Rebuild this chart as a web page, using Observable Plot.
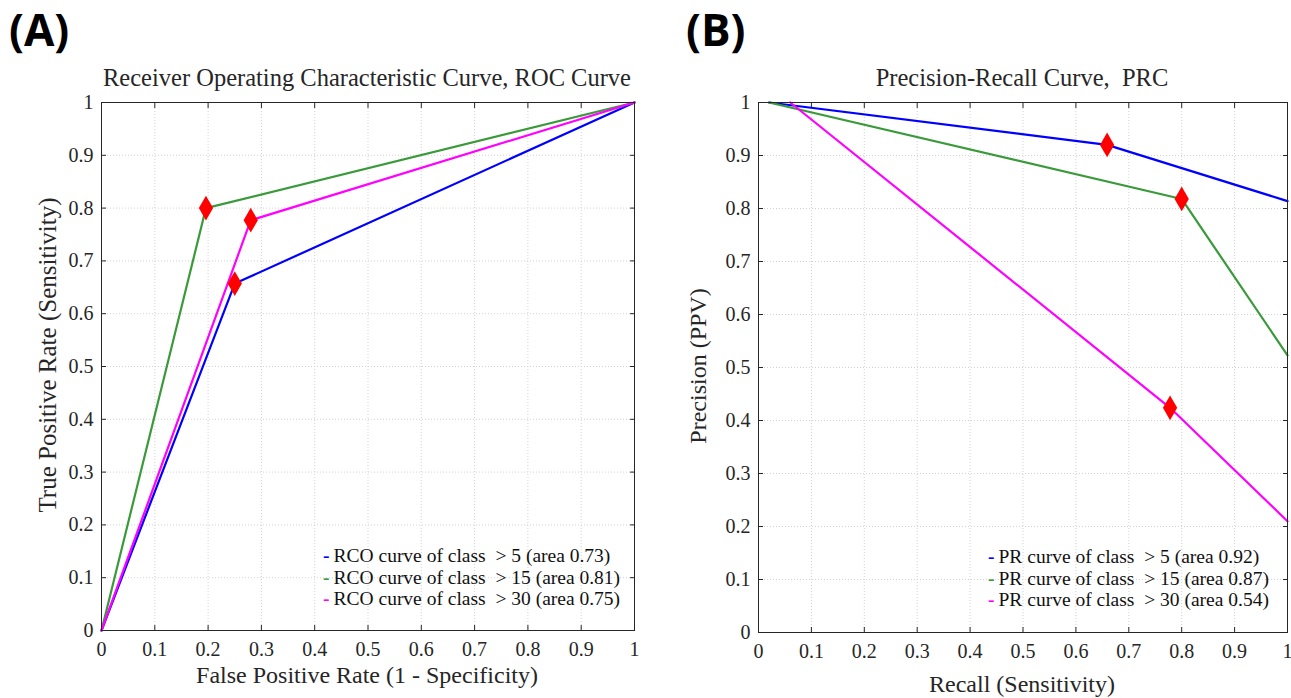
<!DOCTYPE html>
<html>
<head>
<meta charset="utf-8">
<script src="https://cdn.jsdelivr.net/npm/d3@7"></script>
<script src="https://cdn.jsdelivr.net/npm/@observablehq/plot@0.6"></script>
<style>
  body { margin: 0; background: #fff; }
  #root { position: relative; width: 1291px; height: 698px; overflow: hidden; background: #fff; font-family: "Liberation Serif", serif; color: #262626; }
  .abs { position: absolute; white-space: nowrap; }
  .letter { font-family: "Open Sans", sans-serif; font-weight: 700; font-size: 44px; color: #000; line-height: 1; }
  .title { font-size: 24.5px; transform: translateX(-50%); line-height: 1; }
  .xlab { font-size: 24px; transform: translateX(-50%); line-height: 1; }
  .ylab { transform: translate(-50%, -50%) rotate(-90deg); line-height: 1; }
  .leg { font-size: 19.5px; line-height: 21.5px; color: #111; }
  .leg span.d { font-weight: 700; margin-right: 4px; }
</style>
</head>
<body>
<div id="root"></div>
<script>
// ---- data ----
const tickValues = [0, 0.1, 0.2, 0.3, 0.4, 0.5, 0.6, 0.7, 0.8, 0.9, 1];
const seriesNames = ["> 5", "> 15", "> 30"];
const seriesColors = ["#0000ff", "#3a9a3a", "#ff00ff"];

// ROC curves (FPR, TPR)
const rocFPR_gt5 = [0, 0.25, 1];
const rocTPR_gt5 = [0, 0.657, 1];
const rocFPR_gt15 = [0, 0.196, 1];
const rocTPR_gt15 = [0, 0.80, 1];
const rocFPR_gt30 = [0, 0.28, 1];
const rocTPR_gt30 = [0, 0.777, 1];
const rocAUC = [0.73, 0.81, 0.75];

// PR curves (Recall, Precision)
const prRecall_gt5 = [0.02, 0.659, 1];
const prPrecision_gt5 = [1, 0.92, 0.814];
const prRecall_gt15 = [0.02, 0.80, 1];
const prPrecision_gt15 = [1, 0.818, 0.523];
const prRecall_gt30 = [0.06, 0.778, 1];
const prPrecision_gt30 = [1, 0.424, 0.21];
const prAUC = [0.92, 0.87, 0.54];

// operating-point marker is the middle point of each curve
const markerIndex = 1;

const fmt = d => (d === 0 ? "0" : d === 1 ? "1" : d.toFixed(1));
const toPts = (xs, ys) => xs.map((x, i) => ({x, y: ys[i]}));

function panel(curves, opts) {
  const marks = [
    Plot.gridX(tickValues, {stroke: "#d2d2d2", strokeOpacity: 1, strokeDasharray: "1,2"}),
    Plot.gridY(tickValues, {stroke: "#d2d2d2", strokeOpacity: 1, strokeDasharray: "1,2"}),
    Plot.axisX(tickValues, {anchor: "bottom", tickSize: -5, tickPadding: 16, tickFormat: fmt, label: null, stroke: "#262626"}),
    Plot.axisX(tickValues, {anchor: "top", tickSize: -5, tickFormat: () => "", label: null, stroke: "#262626"}),
    Plot.axisY(tickValues, {anchor: "left", tickSize: -5, tickPadding: 13, tickFormat: fmt, label: null, stroke: "#262626"}),
    Plot.axisY(tickValues, {anchor: "right", tickSize: -5, tickFormat: () => "", label: null, stroke: "#262626"}),
  ];
  curves.forEach((c, i) => {
    marks.push(Plot.line(toPts(c.x, c.y), {x: "x", y: "y", stroke: seriesColors[i], strokeWidth: 2.2}));
  });
  curves.forEach((c) => {
    marks.push(Plot.dot([{x: c.x[markerIndex], y: c.y[markerIndex]}], {x: "x", y: "y", symbol: "diamond", fill: "#ff0000", r: 7.5}));
  });
  marks.push(Plot.frame({stroke: "#262626", strokeWidth: 1}));
  return Plot.plot({
    width: opts.width, height: opts.height,
    marginLeft: opts.marginLeft, marginRight: opts.marginRight,
    marginTop: opts.marginTop, marginBottom: opts.marginBottom,
    x: {domain: [0, 1]}, y: {domain: [0, 1]},
    style: {fontFamily: "Liberation Serif, serif", fontSize: "20px", color: "#262626", background: "transparent", overflow: "visible"},
    marks
  });
}

const root = document.getElementById("root");
function addSvg(svg, left, top) {
  svg.style.position = "absolute";
  svg.style.left = left + "px";
  svg.style.top = top + "px";
  root.appendChild(svg);
}
function addDiv(cls, html, left, top, extra) {
  const d = document.createElement("div");
  d.className = "abs " + cls;
  d.innerHTML = html;
  d.style.left = left + "px";
  d.style.top = top + "px";
  if (extra) Object.assign(d.style, extra);
  root.appendChild(d);
  return d;
}

const rocCurves = [
  {x: rocFPR_gt5, y: rocTPR_gt5},
  {x: rocFPR_gt15, y: rocTPR_gt15},
  {x: rocFPR_gt30, y: rocTPR_gt30}
];
const prCurves = [
  {x: prRecall_gt5, y: prPrecision_gt5},
  {x: prRecall_gt15, y: prPrecision_gt15},
  {x: prRecall_gt30, y: prPrecision_gt30}
];

addSvg(panel(rocCurves, {width: 650, height: 618, marginLeft: 101, marginRight: 16, marginTop: 22, marginBottom: 68}), 0, 80);
addSvg(panel(prCurves, {width: 634, height: 618, marginLeft: 100, marginRight: 5, marginTop: 22, marginBottom: 66}), 658, 80);

addDiv("letter", "(A)", 9, 7);
addDiv("letter", "(B)", 686, 7);
addDiv("title", "Receiver Operating Characteristic Curve, ROC Curve", 367, 66);
addDiv("title", "Precision-Recall Curve,&nbsp; PRC", 1022, 66);
addDiv("xlab", "False Positive Rate (1 - Specificity)", 367, 663);
addDiv("xlab", "Recall (Sensitivity)", 1022, 672);
addDiv("ylab", "True Positive Rate (Sensitivity)", 47, 355, {fontSize: "25px"});
addDiv("ylab", "Precision (PPV)", 698, 366, {fontSize: "24px"});

const legA = seriesNames.map((n, i) => `<div><span class="d" style="color:${seriesColors[i]}">-</span>RCO curve of class &nbsp;${n.replace(">", "&gt;")} (area ${rocAUC[i].toFixed(2)})</div>`).join("");
addDiv("leg", legA, 323, 545);
const legB = seriesNames.map((n, i) => `<div><span class="d" style="color:${seriesColors[i]}">-</span>PR curve of class &nbsp;${n.replace(">", "&gt;")} (area ${prAUC[i].toFixed(2)})</div>`).join("");
addDiv("leg", legB, 988, 546);
</script>
</body>
</html>
